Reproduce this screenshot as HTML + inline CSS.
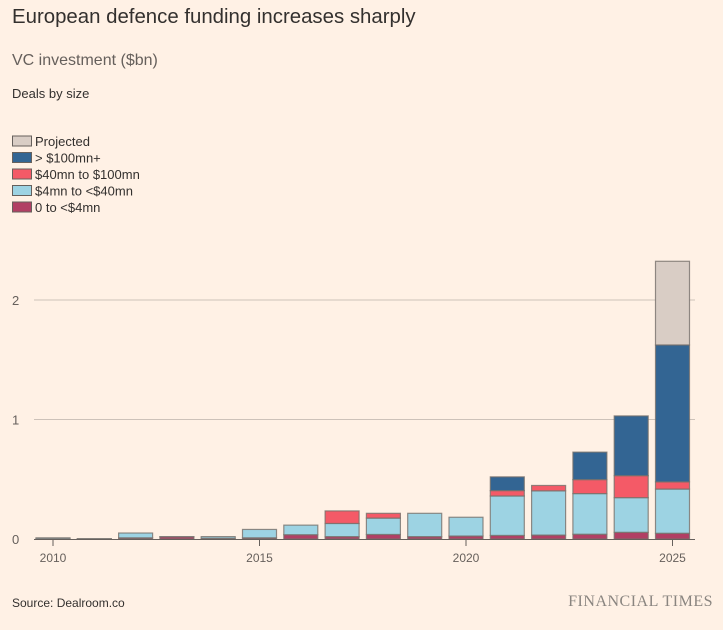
<!DOCTYPE html>
<html><head><meta charset="utf-8"><style>
body{margin:0;background:#fff1e5;font-family:"Liberation Sans",sans-serif;color:#33302e}
#wrap{position:relative;width:723px;height:630px;overflow:hidden}
.t{position:absolute;white-space:nowrap}
</style></head><body>
<div id="wrap">
<div class="t" style="left:12px;top:6px;font-size:20.4px;color:#33302e">European defence funding increases sharply</div>
<div class="t" style="left:12px;top:52px;font-size:16px;color:#66605c">VC investment ($bn)</div>
<div class="t" style="left:12px;top:86px;font-size:13px;color:#33302e">Deals by size</div>
<svg id="chart" width="723" height="630" style="position:absolute;left:0;top:0"></svg>
<div class="t" style="left:12px;top:596px;font-size:12px;color:#33302e">Source: Dealroom.co</div>
<div class="t" style="right:10px;top:593px;font-size:16px;font-family:'Liberation Serif',serif;color:#8a8580;letter-spacing:0.5px">FINANCIAL TIMES</div>
</div>
<script>
const years=[2010,2011,2012,2013,2014,2015,2016,2017,2018,2019,2020,2021,2022,2023,2024,2025];
const small=[0.002,0.001,0.01,0.018,0.006,0.01,0.036,0.02,0.038,0.02,0.025,0.03,0.033,0.04,0.056,0.048];
const mid=[0.008,0.002,0.04,0.002,0.014,0.07,0.08,0.11,0.137,0.195,0.157,0.33,0.37,0.34,0.29,0.37];
const large=[0,0,0,0,0,0,0,0.105,0.04,0,0,0.045,0.045,0.117,0.184,0.06];
const huge=[0,0,0,0,0,0,0,0,0,0,0,0.115,0,0.23,0.50,1.146];
const projected=[0,0,0,0,0,0,0,0,0,0,0,0,0,0,0,0.70];
const yTicks=[0,1,2];
const xTicks=[2010,2015,2020,2025];
const seriesNames=["0 to <$4mn","$4mn to <$40mn","$40mn to $100mn","> $100mn+","Projected"];
const series=[small,mid,large,huge,projected];
const colors=["#b13f64","#9dd3e3","#f45a67","#336593","#d9cdc5"];
const svg=document.getElementById('chart');const NS="http://www.w3.org/2000/svg";
const y=v=>539-v*119.5;
const x=yr=>53+(yr-2010)*41.3;
function mk(tag,at,name,parent){const e=document.createElementNS(NS,tag);for(const k in at)e.setAttribute(k,at[k]);


(parent||svg).appendChild(e);return e;}
yTicks.forEach(t=>{
 if(t>0)mk('line',{x1:34,x2:695,y1:y(t),y2:y(t),stroke:'#cdc2b9','stroke-width':1},'gridline-'+t);
 const tx=mk('text',{x:12,y:y(t)+5,'font-size':13,fill:'#66605c'},'y-tick-'+t);tx.textContent=t;
});
years.forEach((yr,i)=>{
 let acc=0;
 series.forEach((s,j)=>{const v=s[i];if(v<=0)return;
  mk('rect',{x:x(yr)-17,y:y(acc+v),width:34,height:y(acc)-y(acc+v),fill:colors[j],stroke:'#77716c','stroke-width':1.2,'stroke-opacity':0.8},'bar-'+yr+'-s'+j);
  acc+=v;});
});
mk('line',{x1:34,x2:695,y1:539.5,y2:539.5,stroke:'#66605c','stroke-width':1},'x-axis-line');
xTicks.forEach(t=>{
 mk('line',{x1:x(t),x2:x(t),y1:540,y2:546,stroke:'#66605c'},'x-tick-mark-'+t);
 const tx=mk('text',{x:x(t),y:562,'font-size':12,fill:'#66605c','text-anchor':'middle'},'x-tick-'+t);tx.textContent=t;
});
[4,3,2,1,0].forEach((j,k)=>{
 const yy=136+k*16.5;
 mk('rect',{x:12.5,y:yy,width:19,height:10,fill:colors[j],stroke:'#66605c','stroke-width':1},'legend-swatch-'+j);
 const tx=mk('text',{x:35,y:yy+10,'font-size':13,fill:'#33302e'},'legend-entry-'+j);tx.textContent=seriesNames[j];
});
</script>
</body></html>
